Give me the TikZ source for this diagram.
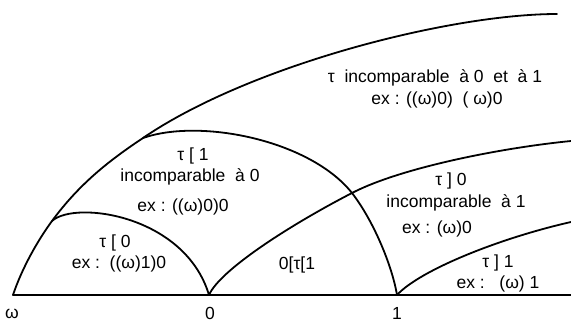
\documentclass[tikz,border=0pt]{standalone}
\usepackage{fontspec}
\setmainfont{Liberation Sans}
\tikzset{
  curve/.style={line width=1.8pt, line join=round, line cap=round},
  lbl/.style={anchor=base, inner sep=0pt, font=\fontsize{17.5}{20}\selectfont}
}
\begin{document}
\begin{tikzpicture}[x=1pt,y=-1pt]
\useasboundingbox (0,0) rectangle (571,322);
% key points
\coordinate (w) at (13,295);
\coordinate (z) at (209,295);
\coordinate (o) at (397,295);
\coordinate (e) at (571,295);
\coordinate (p1) at (52,221);
\coordinate (p2) at (143,138);
\coordinate (x) at (352,193);
\coordinate (t) at (557,14);
\coordinate (r0) at (571,141);
\coordinate (r1) at (571,222);
% baseline
\draw[curve] (w) -- (e);
% trunk from omega to top right
\draw[curve] (w) .. controls (22,268) and (38,240) .. (p1)
                 .. controls (80,183) and (110,160) .. (p2)
                 .. controls (250,65) and (450,14) .. (t);
% small arch omega -> 0
\draw[curve] (p1) .. controls (75,200) and (185,215) .. (z);
% arch tau[1 -> 1
\draw[curve] (p2) .. controls (200,118) and (310,140) .. (x)
                  .. controls (373,220) and (392,265) .. (o);
% curve from 0
\draw[curve] (z) .. controls (220,270) and (290,225) .. (x)
                 .. controls (400,168) and (500,148) .. (r0);
% curve from 1
\draw[curve] (o) .. controls (420,270) and (500,238) .. (r1);
% labels
\node[lbl] (l1) at (435,82) {τ\ \ incomparable\ \ à 0\ \ et\ \ à 1};
\node[lbl] (l2) at (437,104) {ex : ((ω)0)\ \ ( ω)0};
\node[lbl] (l3) at (193,160) {τ [ 1};
\node[lbl] (l4) at (190,181) {incomparable\ \ à 0};
\node[lbl] (l5) at (183,211) {ex : ((ω)0)0};
\node[lbl] (l6) at (115,247) {τ\ [ 0};
\node[lbl] (l7) at (119,268) {ex :\ \ ((ω)1)0};
\node[lbl] (l8) at (297,269) {0[τ[1};
\node[lbl] (l9) at (451,185) {τ ] 0};
\node[lbl] (l10) at (456,207) {incomparable\ \ à 1};
\node[lbl] (l11) at (437,233) {ex : (ω)0};
\node[lbl] (l12) at (498,267) {τ ] 1};
\node[lbl] (l13) at (498,288) {ex :\ \ \ (ω) 1};
\node[lbl] (lw) at (12,318) {ω};
\node[lbl] (lz) at (210,319) {0};
\node[lbl] (lo) at (397,319) {1};
\end{tikzpicture}
\end{document}
